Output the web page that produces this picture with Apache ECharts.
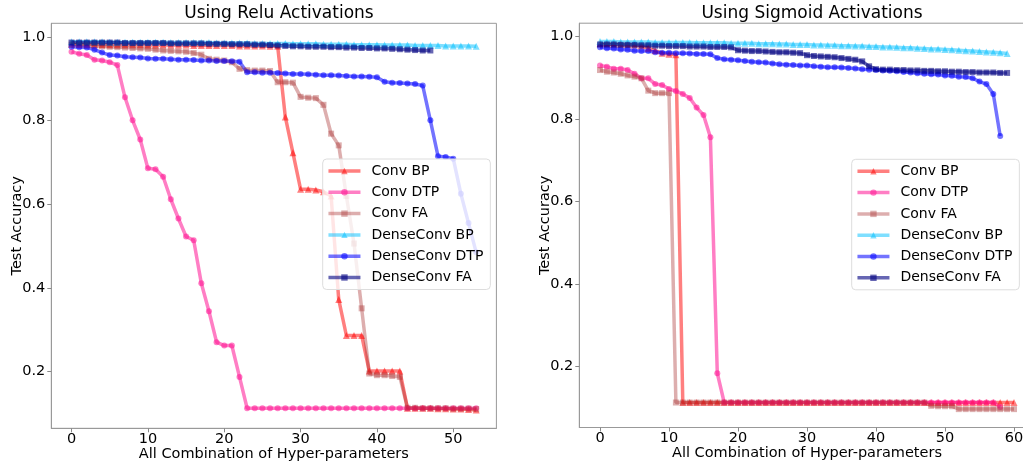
<!DOCTYPE html>
<html><head><meta charset="utf-8">
<script src="https://cdn.jsdelivr.net/npm/echarts@6/dist/echarts.min.js"></script>
<style>html,body{margin:0;padding:0;background:#fff}#c{width:1023px;height:463px}</style>
</head><body><div id="c"></div><script>
// ---------- data ----------
const seriesNames = ['Conv BP','Conv DTP','Conv FA','DenseConv BP','DenseConv DTP','DenseConv FA'];
const xTickValues = [0,10,20,30,40,50];
const xTickValuesRight = [0,10,20,30,40,50,60];
const yTickValues = [0.2,0.4,0.6,0.8,1.0];
const titles = ['Using Relu Activations','Using Sigmoid Activations'];
const xLabel = 'All Combination of Hyper-parameters';
const yLabel = 'Test Accuracy';

// Relu
const reluConvBP = [0.983,0.983,0.983,0.983,0.982,0.982,0.982,0.982,0.982,0.982,0.981,0.981,0.981,0.981,0.981,0.981,0.980,0.980,0.980,0.980,0.980,0.980,0.979,0.979,0.979,0.979,0.978,0.978,
  0.809,0.723,0.636,0.636,0.634,0.630,0.620,0.372,0.286,0.286,0.286,0.201,0.201,0.201,0.201,0.201,
  0.112,0.112,0.112,0.112,0.111,0.111,0.110,0.110,0.109,0.108];
const reluConvDTP = [0.965,0.960,0.957,0.946,0.944,0.940,0.933,0.856,0.801,0.755,0.686,0.684,0.666,0.612,0.566,0.523,0.514,0.411,0.344,0.270,0.262,0.262,0.187,
  0.112,0.112,0.112,0.112,0.112,0.112,0.112,0.112,0.112,0.112,0.112,0.112,0.112,0.112,0.112,0.112,0.112,0.112,0.112,0.112,0.112,0.112,0.112,0.112,0.112,0.112,0.112,0.112,0.112,0.112,0.112];
const reluConvFA = [0.982,0.981,0.980,0.979,0.978,0.977,0.976,0.975,0.974,0.973,0.972,0.970,0.968,0.967,0.966,0.965,0.962,0.958,0.948,0.946,0.944,0.940,0.924,0.921,0.920,0.920,0.919,0.892,0.892,0.891,0.857,0.855,0.854,0.838,0.769,0.741,0.620,0.506,0.351,0.195,0.191,0.191,0.189,0.187,
  0.113,0.113,0.112,0.112,0.112,0.112,0.111,0.111,0.111,0.110];
const reluDenseBP = [0.989,0.989,0.989,0.989,0.989,0.988,0.988,0.988,0.988,0.988,0.988,0.988,0.988,0.987,0.987,0.987,0.987,0.987,0.987,0.986,0.986,0.986,0.986,0.986,0.985,0.985,0.985,0.985,0.985,0.984,0.984,0.984,0.984,0.983,0.983,0.983,0.983,0.982,0.982,0.982,0.982,0.981,0.981,0.981,0.981,0.980,0.980,0.980,0.980,0.979,0.979,0.979,0.979,0.978];
const reluDenseDTP = [0.977,0.976,0.975,0.970,0.963,0.957,0.956,0.953,0.952,0.951,0.949,0.948,0.948,0.947,0.946,0.946,0.945,0.944,0.944,0.943,0.943,0.942,0.941,
  0.916,0.916,0.915,0.915,0.914,0.913,0.912,0.912,0.911,0.910,0.909,0.909,0.908,0.907,0.906,0.906,0.905,0.904,
  0.893,0.891,0.890,0.889,0.888,0.884,0.801,0.715,0.713,0.709,0.625,0.555,0.485];
const reluDenseFA = [0.987,0.987,0.987,0.987,0.987,0.987,0.987,0.986,0.986,0.986,0.986,0.986,0.986,0.985,0.985,0.985,0.985,0.985,0.984,0.984,0.984,0.983,0.983,0.983,0.982,0.982,0.981,0.980,0.979,0.978,0.978,0.977,0.977,0.977,0.976,0.976,0.975,0.975,0.974,0.974,0.973,0.973,0.972,0.971,0.970,0.969,0.968,0.968];

// Sigmoid
const sigConvBP = [0.983,0.983,0.982,0.982,0.981,0.980,0.978,0.972,0.966,0.960,0.957,0.956,
  0.113,0.113,0.113,0.113,0.113,0.113,0.113,0.113,0.113,0.113,0.113,0.113,0.113,0.113,0.113,0.113,0.113,0.113,0.113,0.113,0.113,0.113,0.113,0.113,0.113,0.113,0.113,0.113,0.113,0.113,0.113,0.113,0.113,0.113,0.113,0.113,0.113,0.113,0.113,0.113,0.113,0.113,0.113,0.113,0.113,0.113,0.113,0.113,0.113];
const sigConvDTP = [0.930,0.927,0.922,0.922,0.919,0.910,0.899,0.899,0.885,0.883,0.873,0.868,0.861,0.851,0.828,0.810,0.756,0.184,
  0.113,0.113,0.113,0.113,0.113,0.113,0.113,0.113,0.113,0.113,0.113,0.113,0.113,0.113,0.113,0.113,0.113,0.113,0.113,0.113,0.113,0.113,0.113,0.113,0.113,0.113,0.113,0.113,0.113,0.113,0.113,0.113,0.113,0.113,0.113,0.113,0.113,0.113,0.113,0.113,0.102];
const sigConvFA = [0.919,0.915,0.913,0.910,0.906,0.903,0.899,0.869,0.863,0.863,0.863,
  0.113,0.113,0.113,0.113,0.113,0.113,0.113,0.113,0.113,0.113,0.113,0.113,0.113,0.113,0.113,0.113,0.113,0.113,0.113,0.113,0.113,0.113,0.113,0.113,0.113,0.113,0.113,0.113,0.113,0.113,0.113,0.113,0.113,0.113,0.113,0.113,0.113,
  0.105,0.104,0.104,0.104,0.097,0.097,0.097,0.097,0.097,0.097,0.097,0.097,0.097];
const sigDenseBP = [0.988,0.988,0.988,0.987,0.987,0.987,0.987,0.987,0.986,0.986,0.986,0.986,0.986,0.986,0.985,0.985,0.985,0.985,0.985,0.984,0.984,0.984,0.984,0.983,0.983,0.983,0.982,0.982,0.981,0.981,0.981,0.980,0.980,0.979,0.979,0.978,0.978,0.977,0.977,0.976,0.976,0.975,0.975,0.974,0.973,0.973,0.972,0.971,0.970,0.970,0.969,0.968,0.967,0.966,0.965,0.964,0.963,0.962,0.961,0.959];
const sigDenseDTP = [0.974,0.972,0.971,0.969,0.968,0.966,0.965,0.965,0.962,0.961,0.961,0.960,0.960,0.959,0.958,0.958,0.957,0.948,0.945,0.944,0.943,0.941,0.939,0.938,0.937,0.935,0.933,0.932,0.931,0.930,0.930,0.928,0.927,0.926,0.926,0.925,0.924,0.923,0.921,0.920,0.919,0.918,0.917,0.916,0.914,0.913,0.911,0.910,0.909,0.908,0.906,0.905,0.903,0.902,0.899,0.891,0.885,0.861,0.759];
const sigDenseFA = [0.981,0.981,0.981,0.980,0.980,0.980,0.979,0.979,0.978,0.978,0.977,0.977,0.977,0.976,0.976,0.976,0.975,0.975,0.975,0.974,
  0.967,0.966,0.965,0.965,0.964,0.963,0.962,0.962,0.961,0.960,
  0.955,0.953,0.952,0.951,0.950,0.948,0.946,0.944,0.940,
  0.928,0.921,0.920,0.920,0.919,0.919,0.918,0.918,0.917,0.917,0.916,0.916,0.915,0.915,0.914,0.914,0.913,0.913,0.913,0.912,0.912];

// ---------- styles ----------
const FONT = 'DejaVu Sans';
const styles = [
  {color:'rgba(255,0,0,0.5)', symbol:'triangle', size:7},
  {color:'rgba(255,20,147,0.55)', symbol:'circle', size:6},
  {color:'rgba(165,42,42,0.38)', symbol:'rect', size:6},
  {color:'rgba(0,191,255,0.5)', symbol:'triangle', size:7},
  {color:'rgba(0,0,255,0.55)', symbol:'circle', size:6},
  {color:'rgba(0,0,128,0.6)', symbol:'rect', size:6}
];
const panels = [
  {data:[reluConvBP,reluConvDTP,reluConvFA,reluDenseBP,reluDenseDTP,reluDenseFA], ticks:xTickValues,
   grid:{left:51.3, top:23.3, width:445.1, height:405}, legend:{left:322.7, top:159}, title:274},
  {data:[sigConvBP,sigConvDTP,sigConvFA,sigDenseBP,sigDenseDTP,sigDenseFA], ticks:xTickValuesRight,
   grid:{left:579.3, top:23.2, width:455.4, height:404.3}, legend:{left:851.7, top:159.3}, title:807}
];

const option = {animation:false, title:[], grid:[], xAxis:[], yAxis:[], legend:[], series:[]};
panels.forEach((p, gi) => {
  let maxN = 0, ymin = Infinity, ymax = -Infinity;
  p.data.forEach(a => { maxN = Math.max(maxN, a.length - 1); a.forEach(v => { ymin = Math.min(ymin, v); ymax = Math.max(ymax, v); }); });
  const xm = maxN * 0.05, ym = (ymax - ymin) * 0.05;
  option.title.push({text:titles[gi], left:p.title, top:0, textAlign:'center',
    textStyle:{fontFamily:FONT, fontSize:17, fontWeight:'normal', color:'#000'}});
  option.grid.push(Object.assign({show:true, borderColor:'#999', borderWidth:1, backgroundColor:'#fff',
    containLabel:false, outerBoundsMode:'none'}, p.grid));
  option.xAxis.push({type:'value', gridIndex:gi, min:-xm, max:maxN + xm,
    name:xLabel, nameLocation:'middle', nameGap:18, nameMoveOverlap:false,
    nameTextStyle:{fontFamily:FONT, fontSize:14.5, color:'#000'},
    axisLine:{show:true, onZero:false, lineStyle:{color:'#999'}},
    axisTick:{show:true, customValues:p.ticks, length:4, lineStyle:{color:'#888'}},
    axisLabel:{customValues:p.ticks, margin:3, fontFamily:FONT, fontSize:14.5, color:'#000', hideOverlap:false},
    splitLine:{show:false}});
  option.yAxis.push({type:'value', gridIndex:gi, min:ymin - ym, max:ymax + ym,
    name:yLabel, nameLocation:'middle', nameGap:27, nameRotate:90, nameMoveOverlap:false,
    nameTextStyle:{fontFamily:FONT, fontSize:14.5, color:'#000'},
    axisLine:{show:true, onZero:false, lineStyle:{color:'#999'}},
    axisTick:{show:true, customValues:yTickValues, length:4, lineStyle:{color:'#888'}},
    axisLabel:{customValues:yTickValues, margin:6, fontFamily:FONT, fontSize:14.5, color:'#000',
      formatter:v => v.toFixed(1)},
    splitLine:{show:false}});
  option.legend.push({orient:'vertical', left:p.legend.left, top:p.legend.top,
    itemWidth:32, itemHeight:8, itemGap:7.3, padding:[5,7,5,4],
    backgroundColor:'rgba(255,255,255,0.8)', borderColor:'#ddd', borderWidth:1, borderRadius:4,
    selectedMode:false, lineStyle:{width:3.5},
    textStyle:{fontFamily:FONT, fontSize:14, color:'#000', padding:[0,0,0,6]},
    data:seriesNames});
  p.data.forEach((arr, si) => {
    const s = styles[si];
    option.series.push({type:'line', name:seriesNames[si], xAxisIndex:gi, yAxisIndex:gi,
      data:arr.map((v,i) => [i,v]), symbol:s.symbol, symbolSize:s.size, showAllSymbol:true,
      lineStyle:{color:s.color, width:3.5}, itemStyle:{color:s.color},
      emphasis:{disabled:true}, clip:true});
  });
});
const chart = echarts.init(document.getElementById('c'), null, {renderer:'canvas'});
chart.setOption(option);
</script></body></html>
